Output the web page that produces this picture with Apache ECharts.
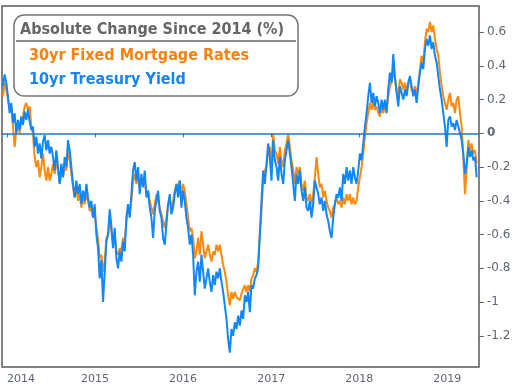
<!DOCTYPE html>
<html><head><meta charset="utf-8">
<script src="https://cdn.jsdelivr.net/npm/echarts@6/dist/echarts.min.js"></script>
<style>html,body{margin:0;padding:0;background:#fff}#c{width:514px;height:388px}</style>
</head><body><div id="c"></div>
<script>
// Sampling of the series: first sample date and spacing (days)
const startDate = [2013, 11, 15];
const stepDays = 6.92;

// 10yr Treasury Yield, absolute change since 2014 (%)
const treasury = [
 0.28,0.35,0.30, 0.22,0.12,0.18, 0.06,0.12,0.0, 0.08,0.02,0.1, 0.05,0.13,0.08,
 0.14,0.07,0.02, 0.04,-0.08,-0.02, -0.12,-0.06,-0.15, -0.05,-0.01,-0.1, -0.04,-0.12,-0.08,
 -0.14,-0.22,-0.1, -0.2,-0.3,-0.18, -0.26,-0.14,-0.2, -0.04,-0.1,-0.2, -0.3,-0.38,-0.28,
 -0.36,-0.3,-0.42, -0.34,-0.4,-0.3, -0.38,-0.44,-0.4, -0.5,-0.42,-0.6, -0.68,-0.86,-0.75,
 -1.0,-0.82,-0.64, -0.6,-0.45,-0.55, -0.68,-0.56,-0.74, -0.8,-0.7,-0.76, -0.64,-0.7,-0.5,
 -0.42,-0.5,-0.36, -0.22,-0.17,-0.28, -0.2,-0.36,-0.24, -0.32,-0.22,-0.38, -0.34,-0.44,-0.5,
 -0.62,-0.46,-0.4, -0.34,-0.46,-0.5, -0.62,-0.66,-0.54, -0.42,-0.36,-0.48, -0.44,-0.36,-0.3,
 -0.38,-0.28,-0.44, -0.34,-0.4,-0.5, -0.56,-0.66,-0.6, -0.72,-0.96,-0.82, -0.76,-0.88,-0.72,
 -0.82,-0.92,-0.86, -0.8,-0.88,-0.94, -0.84,-0.9,-0.82, -0.86,-0.8,-0.88, -0.94,-1.02,-1.1,
 -1.22,-1.3,-1.16, -1.2,-1.12,-1.16, -1.08,-1.14,-1.05, -1.1,-0.96,-1.0, -0.94,-1.06,-0.9,
 -0.92,-0.86,-0.84, -0.8,-0.6,-0.4, -0.22,-0.3,-0.18, -0.06,-0.14,-0.28, -0.04,-0.16,-0.2,
 -0.28,-0.14,-0.24, -0.3,-0.16,-0.1, -0.04,-0.12,-0.2, -0.3,-0.4,-0.24, -0.3,-0.22,-0.34,
 -0.4,-0.32,-0.44, -0.46,-0.4,-0.5, -0.42,-0.28,-0.32, -0.36,-0.42,-0.38, -0.46,-0.4,-0.48,
 -0.52,-0.58,-0.62, -0.5,-0.42,-0.36, -0.38,-0.32,-0.4, -0.24,-0.3,-0.2, -0.28,-0.22,-0.3,
 -0.2,-0.26,-0.3, -0.22,-0.12,-0.16, -0.06,0.04,0.12, 0.22,0.3,0.18, 0.24,0.16,0.22,
 0.18,0.12,0.2, 0.14,0.2,0.12, 0.26,0.36,0.3, 0.47,0.34,0.24, 0.16,0.28,0.24,
 0.2,0.26,0.22, 0.3,0.34,0.28, 0.22,0.26,0.18, 0.28,0.36,0.42, 0.38,0.5,0.56,
 0.52,0.58,0.5, 0.54,0.46,0.42, 0.34,0.26,0.2, 0.12,0.04,-0.08, 0.08,0.1,0.04,
 0.06,0.02,0.08, 0.04,0.0,-0.04, -0.12,-0.24,-0.18, -0.08,-0.14,-0.1, -0.16,-0.14,-0.26
];

// 30yr Fixed Mortgage Rates, absolute change since 2014 (%)
const mortgage = [
 0.22,0.3,0.26, 0.2,0.14,0.16, 0.04,-0.08,0.02, 0.06,0.0,0.08, 0.1,0.16,0.18,
 0.14,0.16,0.04, 0.0,-0.14,-0.2, -0.16,-0.26,-0.2, -0.12,-0.22,-0.28, -0.2,-0.28,-0.24,
 -0.18,-0.24,-0.16, -0.22,-0.3,-0.24, -0.26,-0.2,-0.22, -0.1,-0.16,-0.24, -0.32,-0.38,-0.32,
 -0.4,-0.36,-0.44, -0.38,-0.42,-0.36, -0.4,-0.46,-0.44, -0.5,-0.48,-0.56, -0.62,-0.74,-0.72,
 -0.82,-0.76,-0.62, -0.6,-0.52,-0.58, -0.66,-0.6,-0.7, -0.72,-0.68,-0.7, -0.62,-0.64,-0.52,
 -0.44,-0.48,-0.4, -0.28,-0.24,-0.3, -0.26,-0.32,-0.28, -0.3,-0.28,-0.36, -0.34,-0.4,-0.44,
 -0.48,-0.42,-0.36, -0.36,-0.44,-0.48, -0.52,-0.56,-0.5, -0.42,-0.4,-0.44, -0.4,-0.34,-0.3,
 -0.32,-0.28,-0.36, -0.3,-0.34,-0.42, -0.5,-0.58,-0.56, -0.62,-0.74,-0.7, -0.62,-0.72,-0.58,
 -0.66,-0.74,-0.7, -0.66,-0.72,-0.76, -0.7,-0.72,-0.66, -0.7,-0.66,-0.72, -0.78,-0.82,-0.88,
 -0.96,-1.02,-0.94, -0.98,-0.94,-0.97, -0.96,-0.99,-0.95, -0.96,-0.9,-0.94, -0.9,-0.94,-0.86,
 -0.84,-0.8,-0.82, -0.76,-0.6,-0.46, -0.28,-0.22,-0.2, -0.1,-0.08,-0.2, 0.0,-0.1,-0.12,
 -0.18,-0.08,-0.16, -0.2,-0.1,-0.06, 0.0,-0.08,-0.16, -0.22,-0.3,-0.2, -0.24,-0.2,-0.3,
 -0.34,-0.28,-0.38, -0.4,-0.36,-0.42, -0.36,-0.26,-0.14, -0.24,-0.32,-0.3, -0.38,-0.34,-0.4,
 -0.44,-0.46,-0.5, -0.44,-0.42,-0.38, -0.42,-0.4,-0.44, -0.38,-0.42,-0.36, -0.4,-0.36,-0.42,
 -0.38,-0.42,-0.4, -0.32,-0.26,-0.2, -0.12,-0.02,0.06, 0.12,0.18,0.14, 0.2,0.14,0.16,
 0.12,0.1,0.16, 0.12,0.16,0.14, 0.22,0.28,0.3, 0.38,0.32,0.26, 0.22,0.32,0.3,
 0.26,0.3,0.24, 0.3,0.32,0.26, 0.24,0.28,0.22, 0.3,0.38,0.46, 0.42,0.54,0.62,
 0.6,0.66,0.6, 0.64,0.56,0.5, 0.46,0.36,0.28, 0.22,0.18,0.14, 0.2,0.24,0.16,
 0.18,0.12,0.2, 0.22,0.12,0.04, -0.14,-0.36,-0.22, -0.04,-0.1,-0.06, -0.12,-0.1,-0.18
];

const seriesNames = ['30yr Fixed Mortgage Rates', '10yr Treasury Yield'];
const chartTitle = 'Absolute Change Since 2014 (%)';
const yearTicks = [2014, 2015, 2016, 2017, 2018, 2019];
const yTicks = [-1.2, -1, -0.8, -0.6, -0.4, -0.2, 0, 0.2, 0.4, 0.6];

const DAY = 86400000;
const t0 = new Date(startDate[0], startDate[1], startDate[2]).getTime();
const toPairs = arr => arr.map((v, i) => [t0 + i * stepDays * DAY, v]);
const yearStamps = yearTicks.map(y => new Date(y, 0, 1).getTime());

const chart = echarts.init(document.getElementById('c'), null, {renderer: 'canvas'});
const labelColor = '#5f6672';
chart.setOption({
  animation: false,
  backgroundColor: '#fff',
  grid: {left: 2, right: 35, top: 6, bottom: 21, show: true, borderColor: '#5a5a5a', borderWidth: 1.5,
         backgroundColor: 'transparent', containLabel: false, outerBoundsMode: 'none'},
  title: {
    text: chartTitle, left: 20, top: 22, padding: 0,
    textStyle: {fontFamily: 'DejaVu Sans Condensed, DejaVu Sans', fontWeight: 'bold', fontSize: 16, color: '#666'}
  },
  legend: {
    orient: 'vertical', left: 24, top: 48, padding: 0, itemGap: 8,
    icon: 'none', itemWidth: 0, itemHeight: 16, selectedMode: false,
    textStyle: {fontFamily: 'DejaVu Sans Condensed, DejaVu Sans', fontWeight: 'bold', fontSize: 16},
    data: [
      {name: seriesNames[0], textStyle: {color: '#f7820c'}},
      {name: seriesNames[1], textStyle: {color: '#1584f4'}}
    ]
  },
  graphic: [
    {type: 'rect', z: 3, shape: {x: 14, y: 15, width: 284, height: 81, r: 10},
     style: {fill: 'rgba(255,255,255,0.92)', stroke: '#777', lineWidth: 1.5}},
    {type: 'line', z: 3, shape: {x1: 16, y1: 41, x2: 296, y2: 41},
     style: {stroke: '#666', lineWidth: 1.5}}
  ],
  xAxis: {
    type: 'value',
    min: new Date(2013, 11, 11).getTime(),
    max: new Date(2019, 4, 13).getTime(),
    splitLine: {show: false},
    axisLine: {show: false},
    axisTick: {show: true, length: 4, lineStyle: {color: '#666'}, customValues: yearStamps},
    axisLabel: {
      customValues: yearStamps, alignMinLabel: 'left',
      margin: 7, fontSize: 11, color: labelColor, fontFamily: 'DejaVu Sans',
      formatter: v => String(new Date(v).getFullYear())
    }
  },
  yAxis: {
    type: 'value', position: 'right',
    min: -1.385, max: 0.755,
    splitLine: {show: false},
    axisLine: {show: false},
    axisTick: {show: true, length: 5, lineStyle: {color: '#666'}, customValues: yTicks},
    axisLabel: {
      customValues: yTicks, margin: 8, fontSize: 12, color: labelColor, fontFamily: 'DejaVu Sans',
      formatter: v => Math.abs(v) < 1e-9 ? '{b|0}' : String(v),
      rich: {b: {fontWeight: 'bold', fontSize: 12, color: labelColor, fontFamily: 'DejaVu Sans'}}
    }
  },
  series: [
    {
      name: seriesNames[0], type: 'line', data: toPairs(mortgage), showSymbol: false,
      lineStyle: {color: '#ff8a0a', width: 2}, itemStyle: {color: '#ff8a0a'},
      markLine: {
        silent: true, symbol: ['none', 'none'], label: {show: false},
        lineStyle: {color: '#1f78d1', width: 1.5, type: 'solid'},
        data: [{yAxis: 0}]
      }
    },
    {
      name: seriesNames[1], type: 'line', data: toPairs(treasury), showSymbol: false,
      lineStyle: {color: '#0f87ff', width: 2}, itemStyle: {color: '#0f87ff'}
    }
  ]
});
</script>
</body></html>
